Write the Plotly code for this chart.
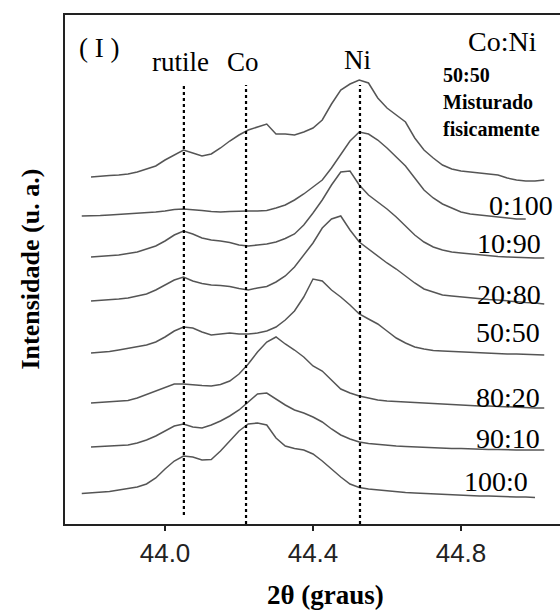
import plotly.graph_objects as go

# 2θ sampling positions (graus)
two_theta = [43.775, 43.800, 43.825, 43.850, 43.875, 43.900, 43.925, 43.950, 43.975,
             44.000, 44.025, 44.050, 44.075, 44.100, 44.125, 44.150, 44.175, 44.200, 44.225,
             44.250, 44.275, 44.300, 44.325, 44.350, 44.375, 44.400, 44.425, 44.450, 44.475,
             44.500, 44.525, 44.550, 44.575, 44.600, 44.625, 44.650, 44.675, 44.700, 44.725,
             44.750, 44.775, 44.800, 44.825, 44.850, 44.875, 44.900, 44.925, 44.950, 44.975,
             45.000, 45.025]

# Intensities (u. a.), stacked patterns
mix_50_50 = [None, 347, 348, 348.5, 349, 350, 352, 355, 358, 364, 369, 374, 371, 368, 370, 376, 383,
             389, 394, 397, 400, 390, 390, 389, 392, 396, 404, 420, 434, 440, 444, 441, 426, 416,
             409, 402, 386, 374, 366, 359, 355, 353, 352, 351, 350, 349, 346, 344, 343, 343, 344]
coni_0_100 = [308, 308, 308.5, 309, 309.5, 310, 310.5, 311, 312, 313, 314.5, 315, 314.5, 313.5, 312.5,
              312, 312.5, 313, 313, 313, 313.5, 316, 319, 324, 330, 337, 344, 356, 369, 383, 392, 390,
              384, 376, 367, 358, 346, 334, 326, 320, 316, 312, 310, 309, 308, 307, 306, 305, 305,
              None, None]
coni_10_90 = [None, 267, 267.5, 268, 269, 270.5, 272, 275, 278, 283, 289, 293, 290, 286, 284, 283,
              281.5, 279, 278, 279, 280, 282, 285.5, 290, 299, 311, 324, 339, 352, 353, 339, 329,
              322, 315, 307, 298, 289, 282, 277, 274, 272, 271, 270, 269, 268, 267.5, 267, 266.5,
              266, 266, 266]
coni_20_80 = [None, 223, 223.5, 224, 225, 226, 228, 230, 234, 239, 244, 247, 243, 240.5, 239, 238.5,
              237.5, 235.5, 234, 236, 237.5, 242, 248, 257, 269, 281, 296, 305, 308, 294, 282, 275,
              268, 261, 255, 248, 241, 235, 232, 229, 228, 227, 226, 225, 224.5, 224, 223, 222,
              221.5, 221, 220]
coni_50_50 = [None, 171, 171.5, 172.5, 174, 175.5, 177, 179, 182, 187, 193, 197, 196, 192, 189, 190,
              191, 190, 190, 191, 193, 197, 204, 213, 227, 245, 243, 234, 227, 219, 210, 205, 200,
              193, 186, 181, 177, 175, 173.5, 173, 172.5, 172, 171.5, 171, 171, 170.5, 170, 170,
              169.5, 169, 169]
coni_80_20 = [None, 121, 121.5, 122, 122.5, 123.5, 126, 129.5, 133, 136.5, 140, 140, 139, 138.5, 138,
              139.5, 143, 150, 160, 172, 182, 187, 180, 174, 167, 158, 153, 144, 135, 131, 128, 126,
              124, 123, 122.5, 122, 121, 120.5, 120, 119.5, 119, 119, 118.5, 118, 118, 117.5, 117,
              117, 116.5, 116, 116]
coni_90_10 = [None, 77, 77.5, 78, 78.5, 79, 81, 84, 88, 93, 98, 100, 97, 96, 99, 103, 108, 114, 122,
              130, 131, 125, 119, 114, 111, 107, 102, 95, 89, 85, 82, 80.5, 79.5, 78.5, 78, 77.5,
              77, 76.5, 76, 76, 75.5, 75.5, 75, 75, 74.5, 74.5, 74, 74, 74, 74, 74]
coni_100_0 = [30.5, 31, 31.5, 32.5, 34, 35.5, 37, 40, 46, 55, 63, 68, 67, 64, 64.5, 73, 83, 93, 100,
              101, 99, 86, 78, 75.5, 74, 70, 63, 55, 47, 40, 36.5, 35, 34, 33, 32, 31.5, 31, 30.5,
              30, 29.5, 29, 29, 28.5, 28, 28, 27.5, 27, 27, 27, 26.5, None]

series = [mix_50_50, coni_0_100, coni_10_90, coni_20_80, coni_50_50, coni_80_20, coni_90_10, coni_100_0]
labels = ["50:50 Misturado fisicamente", "0:100", "10:90", "20:80", "50:50", "80:20", "90:10", "100:0"]

# reference peak positions (2θ)
ref_names = ["rutile", "Co", "Ni"]
ref_positions = [44.051, 44.219, 44.527]
ref_bottoms = [9, 0, 0]
ref_top = 439

# x tick values
tick_vals = [44.0, 44.4, 44.8]
tick_text = ["44.0", "44.4", "44.8"]

SERIF = "Liberation Serif, Times New Roman, serif"
SANS = "Liberation Sans, Arial, sans-serif"

fig = go.Figure()
for name, y in zip(labels, series):
    fig.add_trace(go.Scatter(x=two_theta, y=y, mode="lines", name=name,
                             line=dict(color="rgb(85,85,85)", width=1.5),
                             connectgaps=False, showlegend=False, hoverinfo="skip"))

for name, xp, yb in zip(ref_names, ref_positions, ref_bottoms):
    fig.add_trace(go.Scatter(x=[xp, xp], y=[yb, ref_top], mode="lines", name=name,
                             line=dict(color="black", width=2.2, dash="3px,3px"),
                             showlegend=False, hoverinfo="skip"))

ann = []
def txt(text, x, y, size, bold=False, xanchor="center", family=SERIF):
    ann.append(dict(text=("<b>%s</b>" % text) if bold else text, x=x, y=y, xref="x", yref="y",
                    showarrow=False, xanchor=xanchor, yanchor="middle",
                    font=dict(family=family, size=size, color="black")))

txt("( I )", 43.822, 476, 27)
txt("rutile", 44.043, 462, 27)
txt("Co", 44.211, 462, 27)
txt("Ni", 44.519, 464, 27)
txt("Co:Ni", 44.911, 483, 28)
txt("50:50", 44.746, 449, 20, bold=True, xanchor="left")
txt("Misturado", 44.746, 422, 20, bold=True, xanchor="left")
txt("fisicamente", 44.746, 395, 20, bold=True, xanchor="left")

label_pos = [(44.962, 319), (44.930, 281), (44.930, 230), (44.927, 192),
             (44.927, 127), (44.927, 86), (44.895, 43)]
for lab, (lx, ly) in zip(labels[1:], label_pos):
    txt(lab, lx, ly, 28)

ann.append(dict(text="<b>2θ (graus)</b>", x=0.527, y=-0.1395, xref="paper", yref="paper",
                showarrow=False, xanchor="center", yanchor="middle",
                font=dict(family=SERIF, size=27, color="black")))
ann.append(dict(text="<b>Intensidade (u. a.)</b>", x=-0.0707, y=0.50, xref="paper", yref="paper",
                showarrow=False, xanchor="center", yanchor="middle", textangle=-90,
                font=dict(family=SERIF, size=26, color="black")))

fig.update_layout(
    width=560, height=610,
    margin=dict(l=65, r=0, t=15, b=86),
    paper_bgcolor="white", plot_bgcolor="white",
    annotations=ann,
    xaxis=dict(range=[43.7297, 45.0676], showgrid=False, zeroline=False,
               showline=True, linecolor="#222", linewidth=2, mirror=True,
               ticks="outside", ticklen=5, tickwidth=1.5, tickcolor="#222",
               tickvals=tick_vals, ticktext=tick_text,
               tickfont=dict(family=SANS, size=26, color="#222")),
    yaxis=dict(range=[0, 509], showgrid=False, zeroline=False,
               showline=True, linecolor="#222", linewidth=2, mirror=False,
               showticklabels=False, ticks=""),
)

fig.write_html("out.html", config={"displayModeBar": False},
               post_script="document.body.style.margin='0';document.body.style.padding='0';"
                           "document.body.style.overflow='hidden';")
